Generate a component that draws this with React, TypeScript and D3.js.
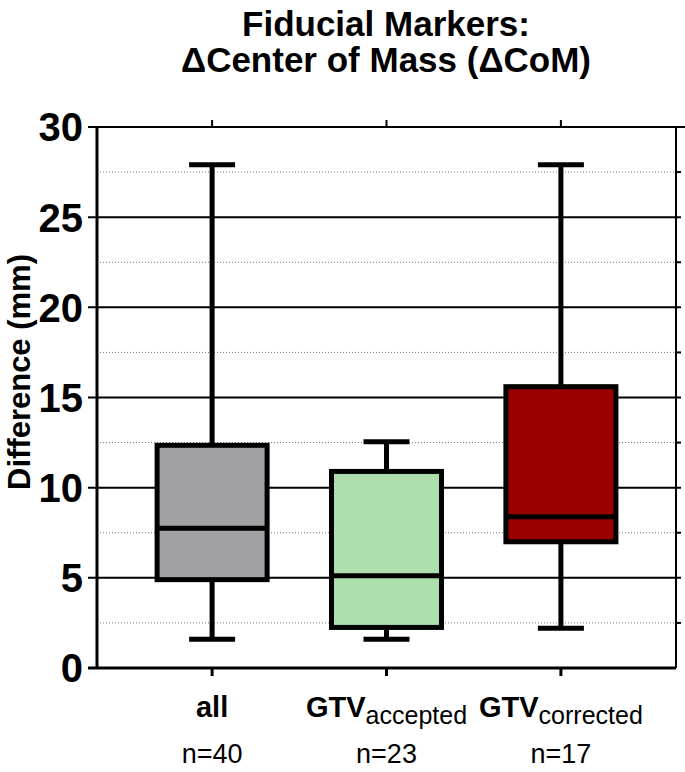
import React from 'react';
import * as d3 from 'd3';

const groups = ['all', 'GTV_accepted', 'GTV_corrected'];
const groupMain = ['all', 'GTV', 'GTV'];
const groupSub = ['', 'accepted', 'corrected'];
const groupN = ['n=40', 'n=23', 'n=17'];
const whiskerLow = [1.6, 1.6, 2.2];
const q1 = [4.9, 2.25, 7.0];
const median = [7.75, 5.12, 8.39];
const q3 = [12.35, 10.9, 15.6];
const whiskerHigh = [27.9, 12.55, 27.9];
const fills = ['#a09fa4', '#addfad', '#9b0000'];
const majorTicks = [0, 5, 10, 15, 20, 25, 30];
const minorTicks = [2.5, 7.5, 12.5, 17.5, 22.5, 27.5];

const W = 685;
const H = 772;
const margin = { top: 127, right: 9, bottom: 104, left: 97 };
const font = '"Liberation Sans", Arial, Helvetica, sans-serif';

const App: React.FC = () => {
  const left = margin.left;
  const right = W - margin.right;
  const top = margin.top;
  const bottom = H - margin.bottom;

  const y = d3.scaleLinear().domain([0, 30]).range([bottom, top]);
  const x = d3.scalePoint<string>().domain(groups).range([left, right]).padding(0.66);

  const boxW = 110;
  const capW = 46;

  return (
    <svg width={W} height={H} style={{ position: 'absolute', left: 0, top: 0, background: '#fff' }} fontFamily={font}>
      {/* title */}
      <text x={386} y={36} textAnchor="middle" fontSize={35} fontWeight="bold">
        Fiducial Markers:
      </text>
      <text x={386} y={72} textAnchor="middle" fontSize={35} fontWeight="bold">
        ΔCenter of Mass (ΔCoM)
      </text>

      {/* minor grid */}
      {minorTicks.map((t) => (
        <g key={'mi' + t}>
          <line x1={left} x2={right} y1={y(t)} y2={y(t)} stroke="#777" strokeWidth={1} strokeDasharray="1,2" />
          <line x1={right} x2={right + 5} y1={y(t)} y2={y(t)} stroke="#000" strokeWidth={2} />
        </g>
      ))}
      {/* major grid */}
      {majorTicks.filter((t) => t > 0).map((t) => (
        <line key={'ma' + t} x1={left - 9} x2={t === 30 ? W : right + 5} y1={y(t)} y2={y(t)} stroke="#000" strokeWidth={2} />
      ))}

      {/* axes */}
      <line x1={left} x2={left} y1={top} y2={bottom} stroke="#000" strokeWidth={3} />
      <line x1={right} x2={right} y1={top} y2={bottom} stroke="#000" strokeWidth={2} />
      <line x1={left - 9} x2={right} y1={bottom} y2={bottom} stroke="#000" strokeWidth={3} />
      {majorTicks.map((t) => (
        <text key={'tl' + t} x={left - 14} y={y(t)} dy="0.36em" textAnchor="end" fontSize={40} fontWeight="bold">
          {t}
        </text>
      ))}
      <text
        transform={`translate(30,372) rotate(-90)`}
        textAnchor="middle"
        fontSize={31}
        fontWeight="bold"
      >
        Difference (mm)
      </text>

      {groups.map((g, i) => {
        const cx = x(g) as number;
        return (
          <g key={g}>
            <line x1={cx} x2={cx} y1={bottom} y2={bottom + 8} stroke="#000" strokeWidth={3} />
            <line x1={cx} x2={cx} y1={top} y2={top - 7} stroke="#000" strokeWidth={2} />
            {/* whiskers */}
            <line x1={cx} x2={cx} y1={y(whiskerLow[i])} y2={y(whiskerHigh[i])} stroke="#000" strokeWidth={5} />
            <line x1={cx - capW / 2} x2={cx + capW / 2} y1={y(whiskerLow[i])} y2={y(whiskerLow[i])} stroke="#000" strokeWidth={5} />
            <line x1={cx - capW / 2} x2={cx + capW / 2} y1={y(whiskerHigh[i])} y2={y(whiskerHigh[i])} stroke="#000" strokeWidth={5} />
            {/* box */}
            <rect
              x={cx - boxW / 2}
              y={y(q3[i])}
              width={boxW}
              height={y(q1[i]) - y(q3[i])}
              fill={fills[i]}
              stroke="#000"
              strokeWidth={5}
            />
            <line x1={cx - boxW / 2} x2={cx + boxW / 2} y1={y(median[i])} y2={y(median[i])} stroke="#000" strokeWidth={5} />
            {/* labels */}
            <text x={cx} y={717} textAnchor="middle" fontSize={29}>
              <tspan fontWeight="bold">{groupMain[i]}</tspan>
              {groupSub[i] && (
                <tspan fontSize={25} dy={7}>
                  {groupSub[i]}
                </tspan>
              )}
            </text>
            <text x={cx} y={763} textAnchor="middle" fontSize={27}>
              {groupN[i]}
            </text>
          </g>
        );
      })}
    </svg>
  );
};

export default App;
